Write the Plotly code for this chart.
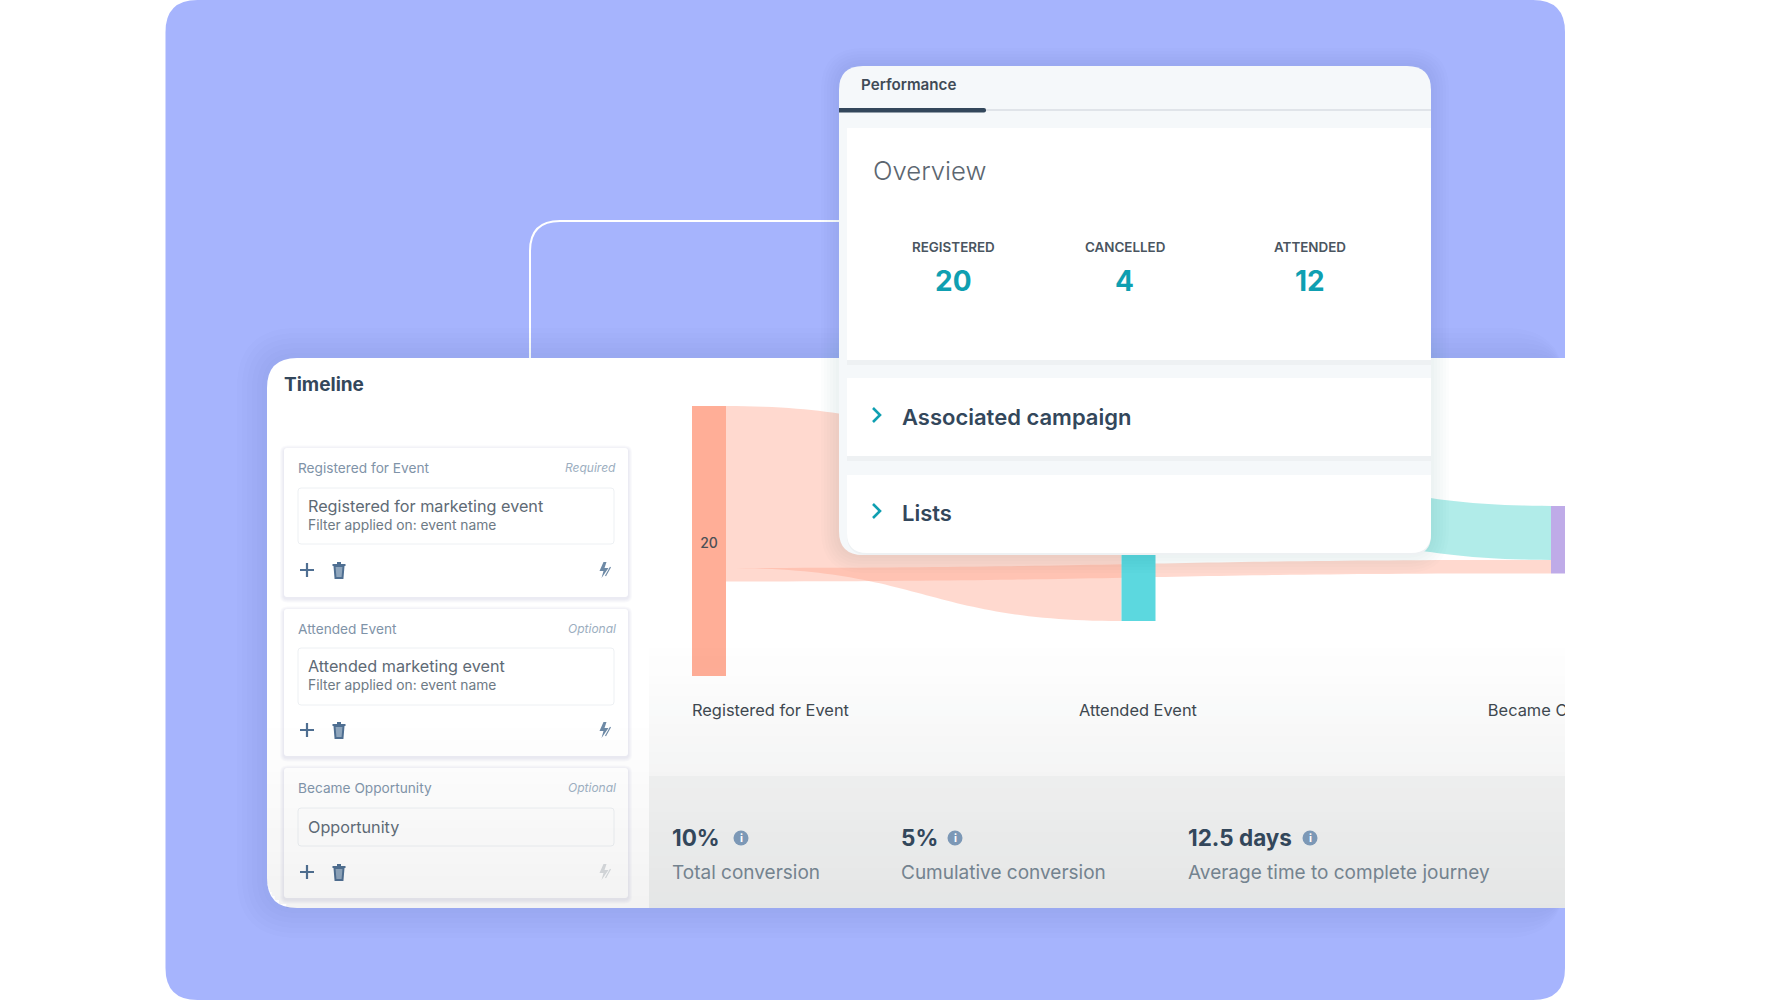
import numpy as np
import plotly.graph_objects as go

# funnel values
node_names = ['Registered for Event', 'Attended Event', 'Became Opportunity']
node_values = [20, 12, 5]
node_colors = ['#FFAE97', '#5CD8DF', '#BFABE8']
link_source = [0, 1, 0]
link_target = [1, 2, 2]
link_values = [12, 4, 1]
link_colors = ['rgba(255,165,140,0.42)', 'rgba(92,216,210,0.48)', 'rgba(255,165,140,0.42)']

# overview card
overview_labels = ['REGISTERED', 'CANCELLED', 'ATTENDED']
overview_values = ['20', '4', '12']

# timeline cards
step_names = ['Registered for Event', 'Attended Event', 'Became Opportunity']
step_tags = ['Required', 'Optional', 'Optional']
step_events = ['Registered for marketing event', 'Attended marketing event', 'Opportunity']
step_filters = ['Filter applied on: event name', 'Filter applied on: event name', '']

# bottom stats
stat_values = ['10%', '5%', '12.5 days']
stat_labels = ['Total conversion', 'Cumulative conversion', 'Average time to complete journey']

FONT = 'Inter'
DARK = '#33475B'
W, H = 1777, 1000
PANEL_L, PANEL_R = 165.5, 1565

shapes = []
annotations = []


def rounded(x0, y0, x1, y1, tl=0, tr=0, br=0, bl=0):
    return (f'M {x0+tl} {y0} L {x1-tr} {y0} Q {x1} {y0} {x1} {y0+tr} '
            f'L {x1} {y1-br} Q {x1} {y1} {x1-br} {y1} '
            f'L {x0+bl} {y1} Q {x0} {y1} {x0} {y1-bl} '
            f'L {x0} {y0+tl} Q {x0} {y0} {x0+tl} {y0} Z')


def add_path(path, fill='rgba(0,0,0,0)', line=None, width=0, layer='below'):
    shapes.append(dict(type='path', path=path, xref='x', yref='y', fillcolor=fill, layer=layer,
                       line=dict(color=line or 'rgba(0,0,0,0)', width=width)))


def add_shadow(x0, y0, x1, y1, r, spread, alpha, layer='below', right_limit=None, steps=6, dy=0):
    for i in range(steps):
        s = spread * (steps - i) / steps
        xr = x1 + s if right_limit is None else min(x1 + s, right_limit)
        add_path(rounded(x0 - s, y0 - s + dy, xr, y1 + s + dy, r + s, r + s, r + s, r + s),
                 fill=f'rgba(40,50,110,{alpha})', layer=layer)


def add_text(x, y, text, size, color, anchor='left', weight=400, style='normal'):
    annotations.append(dict(x=x, y=y, xref='x', yref='y', text=text, showarrow=False,
                            xanchor=anchor, yanchor='middle', borderpad=0,
                            font=dict(family=FONT, size=size, color=color, weight=weight, style=style)))


# purple backdrop and connector
add_path(rounded(PANEL_L, 0, PANEL_R, H, 32, 32, 32, 32), fill='#A6B4FD')
add_path('M 530 358 L 530 251 Q 530 221 560 221 L 839 221', line='white', width=2)

# timeline card
add_shadow(267, 358, PANEL_R, 908, 30, 30, 0.012, right_limit=PANEL_R)
add_path(rounded(267, 358, PANEL_R, 908, tl=30, bl=30), fill='white')
add_text(282.5, 384.5, 'Timeline', 19, DARK, weight=700)

card_tops = [448, 609, 768]
card_bottoms = [597, 756, 898]
box_tops = [488, 648, 808]
box_bottoms = [544, 705, 846]
icon_y = [570, 730, 872]
for i, name in enumerate(step_names):
    top, bottom = card_tops[i], card_bottoms[i]
    add_shadow(284, top, 628, bottom, 3, 4, 0.022, steps=4, dy=1.5)
    add_path(rounded(284, top, 628, bottom, 3, 3, 3, 3), fill='white')
    add_path(rounded(298, box_tops[i], 614, box_bottoms[i], 3, 3, 3, 3), fill='white', line='#EDF0F3', width=1)
    add_text(297, top + 19.5, name, 13.7, '#7F93A8')
    add_text(616.5, top + 19.5, step_tags[i], 12, '#9CAEC0', anchor='right', style='italic')
    if step_filters[i]:
        add_text(307, box_tops[i] + 18, step_events[i], 16.2, '#5E6A75')
        add_text(307, box_tops[i] + 37, step_filters[i], 13.8, '#6E7A85')
    else:
        add_text(307, box_tops[i] + 19, step_events[i], 16.2, '#5E6A75')

    iy = icon_y[i]
    # plus
    add_path(f'M 300 {iy} L 314 {iy} M 307 {iy-7} L 307 {iy+7}', line='#4F6F92', width=2.2)
    # trash can
    add_path(f'M 334.5 {iy-4} L 343.5 {iy-4} L 342.5 {iy+8} L 335.5 {iy+8} Z', fill='#8FA6BD', line='#4F6F92', width=2)
    add_path(f'M 332.5 {iy-5} L 345.5 {iy-5} M 337 {iy-7} L 341 {iy-7}', line='#4F6F92', width=2)
    # bolt
    bolt = '#6E8AA6' if i < 2 else '#D8DCDF'
    add_path(f'M 603.5 {iy-8} L 599.5 {iy+1} L 603.5 {iy+1} L 601.5 {iy+8} L 608.5 {iy-2} L 604.5 {iy-2} L 606.5 {iy-8} Z', fill=bolt)
    add_path(f'M 605.5 {iy+6} L 610.5 {iy-3}', line=bolt, width=1.2)

# flow chart, y axis counts people from the top of the first node
fig = go.Figure()
node_width = 34 / 429.5
node_offsets = [0, 3.93, 7.4]

used_out = [0, 0, 0]
used_in = [0, 0, 0]
for s, t, v, color in zip(link_source, link_target, link_values, link_colors):
    x0, x1 = s + node_width, t
    top0 = node_offsets[s] + used_out[s]
    top1 = node_offsets[t] + used_in[t]
    used_out[s] += v
    used_in[t] += v
    u = np.linspace(0, 1, 60)
    xs = (1 - u)**3 * x0 + 3 * (1 - u)**2 * u * (x0 + x1) / 2 + 3 * (1 - u) * u**2 * (x0 + x1) / 2 + u**3 * x1
    upper = top0 + (top1 - top0) * (3 * u**2 - 2 * u**3)
    fig.add_trace(go.Scatter(x=np.r_[xs, xs[::-1]], y=np.r_[upper, upper[::-1] + v], xaxis='x2', yaxis='y2',
                             mode='none', fill='toself', fillcolor=color, hoverinfo='skip', showlegend=False))

for i, value in enumerate(node_values):
    l, r = i, i + node_width
    top, bot = node_offsets[i], node_offsets[i] + value
    fig.add_trace(go.Scatter(x=[l, r, r, l, l], y=[top, top, bot, bot, top], xaxis='x2', yaxis='y2',
                             mode='none', fill='toself', fillcolor=node_colors[i], hoverinfo='skip', showlegend=False))

fig.add_trace(go.Scatter(x=[node_width / 2], y=[10.25], xaxis='x2', yaxis='y2', mode='text',
                         text=[str(node_values[0])], textfont=dict(family=FONT, size=14, color='#4A4F55', weight=500),
                         hoverinfo='skip', showlegend=False))

fig.add_trace(go.Scatter(x=[0, 0.901, 1.853], y=[22.67, 22.67, 22.67], xaxis='x2', yaxis='y2', mode='text',
                         text=node_names, textposition='middle right',
                         textfont=dict(family=FONT, size=16.4, color='#3F4850'),
                         hoverinfo='skip', showlegend=False))

# grey fade over the lower part of the timeline
for y in range(720, 908, 4):
    inset = 0
    if y > 878:
        inset = 30 - np.sqrt(max(0, 900 - (y + 2 - 878)**2))
    shapes.append(dict(type='rect', xref='x', yref='y', x0=267 + inset, x1=649, y0=y, y1=y + 4, layer='above',
                       fillcolor=f'rgba(60,60,60,{0.065 * (y - 720) / 188:.4f})', line=dict(width=0)))
for y in range(640, 908, 4):
    if y < 776:
        a = 0.055 * (y - 640) / 136
    else:
        a = 0.085 + 0.045 * (y - 776) / 132
    shapes.append(dict(type='rect', xref='x', yref='y', x0=649, x1=PANEL_R, y0=y, y1=y + 4, layer='above',
                       fillcolor=f'rgba(50,60,60,{a:.4f})', line=dict(width=0)))

stat_x = [671, 900, 1187]
stat_icon_x = [741, 955, 1310]
for i in range(3):
    add_text(stat_x[i], 837.5, stat_values[i], 22.5, DARK, weight=700)
    add_text(stat_x[i], 872.5, stat_labels[i], 19, '#74838F')
    shapes.append(dict(type='circle', xref='x', yref='y', x0=stat_icon_x[i] - 7.5, x1=stat_icon_x[i] + 7.5,
                       y0=830.5, y1=845.5, fillcolor='#7C98B6', line=dict(width=0), layer='above'))
    add_text(stat_icon_x[i], 838, 'i', 11, 'white', anchor='center', weight=700)

# performance card on top of the flow
add_shadow(839, 66, 1431, 555, 24, 18, 0.012, layer='above', right_limit=1449)
add_path(rounded(839, 66, 1431, 555, 24, 24, 24, 24), fill='#F5F8FA', layer='above')
add_path('M 985 110 L 1431 110', line='#D9DEE3', width=1.5, layer='above')
add_path(rounded(839, 108, 986, 112.5, 0, 2, 2, 0), fill='#33475B', layer='above')
panels = [(128, 360), (378, 456), (475, 553)]
for top, bottom in panels:
    if bottom == 553:
        add_path(rounded(847, top + 2, 1431, bottom + 2, bl=20, br=20), fill='#EEF1F3', layer='above')
        add_path(rounded(847, top, 1431, bottom, bl=20, br=20), fill='white', layer='above')
    else:
        add_path(rounded(847, top, 1431, bottom + 5), fill='#EEF1F3', layer='above')
        add_path(rounded(847, top, 1431, bottom), fill='white', layer='above')

add_text(859.5, 84, 'Performance', 15.2, '#3F4B57', weight=600)
add_text(872, 170, 'Overview', 25.7, '#5C6670', weight=300)
overview_x = [953.5, 1124.5, 1309.5]
for i in range(3):
    add_text(overview_x[i], 247, overview_labels[i], 13.4, '#4A5560', anchor='center', weight=600)
    add_text(overview_x[i], 281, overview_values[i], 28, '#0F9FB1', anchor='center', weight=700)

section_names = ['Associated campaign', 'Lists']
section_y = [416.5, 512.5]
for name, y in zip(section_names, section_y):
    add_text(901, y, name, 22, DARK, weight=600)
    add_path(f'M 873 {y-8.5} L 880 {y-1.5} L 873 {y+5.5}', line='#0F9FB1', width=2.6, layer='above')

fig.update_layout(
    width=W, height=H, margin=dict(l=0, r=0, t=0, b=0),
    paper_bgcolor='white', plot_bgcolor='rgba(0,0,0,0)', showlegend=False,
    shapes=shapes, annotations=annotations,
    xaxis=dict(range=[0, W], domain=[0, 1], visible=False, fixedrange=True),
    yaxis=dict(range=[H, 0], domain=[0, 1], visible=False, fixedrange=True),
    xaxis2=dict(range=[0, (PANEL_R - 692) / 429.5], domain=[692 / W, PANEL_R / W], anchor='y2',
                visible=False, fixedrange=True),
    yaxis2=dict(range=[26.3, 0], domain=[1 - 761 / H, 1 - 406 / H], anchor='x2',
                visible=False, fixedrange=True),
)

fig.write_html('out.html', post_script="document.body.style.margin='0';document.body.style.overflow='hidden';",
               config=dict(displayModeBar=False))
